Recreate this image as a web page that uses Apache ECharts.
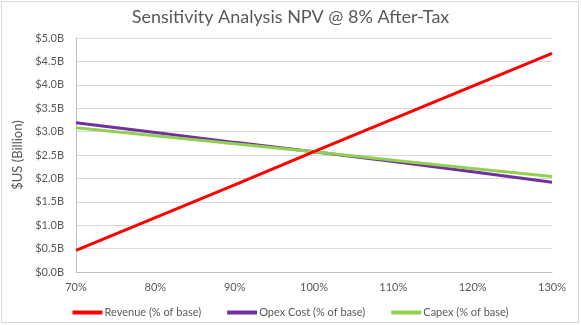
<!DOCTYPE html>
<html>
<head>
<meta charset="utf-8">
<script src="https://cdn.jsdelivr.net/npm/echarts@6/dist/echarts.min.js"></script>
<style>
html,body{margin:0;padding:0;background:#fff;}
#chart{width:581px;height:325px;}
</style>
</head>
<body>
<div id="chart"></div>
<script>
var xValues = [70, 80, 90, 100, 110, 120, 130];
var revenue = [0.46, 1.16, 1.86, 2.57, 3.27, 3.97, 4.67];
var opex = [3.19, 2.98, 2.77, 2.57, 2.36, 2.14, 1.92];
var capex = [3.08, 2.91, 2.74, 2.57, 2.39, 2.21, 2.04];
var seriesNames = ['Revenue (% of base)', 'Opex Cost (% of base)', 'Capex (% of base)'];
var seriesColors = ['#FF0000', '#7030A0', '#92D050'];

function pairs(arr){ return arr.map(function(v,i){ return [xValues[i], v]; }); }

var chart = echarts.init(document.getElementById('chart'), null, {renderer:'canvas'});
var font = 'Lato, "Open Sans", "Liberation Sans", sans-serif';
chart.setOption({
  animation: false,
  backgroundColor: '#fff',
  textStyle: {fontFamily: font},
  title: {
    text: 'Sensitivity Analysis NPV @ 8% After-Tax',
    left: 'center', top: 3,
    textStyle: {fontFamily: font, fontSize: 18, fontWeight: 'normal', color: '#595959'}
  },
  graphic: [{
    type: 'rect', shape: {x: 1.5, y: 1.5, width: 577, height: 321},
    style: {fill: 'none', stroke: '#d9d9d9', lineWidth: 1}, silent: true, z: -1
  }],
  legend: {
    bottom: 2, left: 'center', itemGap: 26,
    itemWidth: 30, itemHeight: 4, icon: 'rect',
    textStyle: {fontFamily: font, fontSize: 11, color: '#595959', padding: [0, 0, 0, -3]},
    data: seriesNames
  },
  grid: {left: 76, right: 29, top: 38, bottom: 53, containLabel: false},
  xAxis: {
    type: 'value', min: 70, max: 130, interval: 10,
    axisLine: {show: true, lineStyle: {color: '#bfbfbf'}},
    axisTick: {show: false},
    splitLine: {show: false},
    axisLabel: {formatter: '{value}%', color: '#595959', fontSize: 11, margin: 10, fontFamily: font}
  },
  yAxis: {
    type: 'value', min: 0, max: 5, interval: 0.5,
    name: '$US (Billion)', nameLocation: 'middle', nameGap: 46, nameRotate: 90,
    nameTextStyle: {color: '#595959', fontSize: 13, fontFamily: font},
    axisLine: {show: true, lineStyle: {color: '#bfbfbf'}},
    axisTick: {show: false},
    splitLine: {show: true, lineStyle: {color: '#d9d9d9'}},
    axisLabel: {formatter: function(v){ return '$' + v.toFixed(1) + 'B'; }, color: '#595959', fontSize: 11, margin: 12, fontFamily: font}
  },
  series: [
    {name: seriesNames[0], type: 'line', data: pairs(revenue), symbol: 'none', lineStyle: {width: 3, color: seriesColors[0]}, itemStyle: {color: seriesColors[0]}, z: 3},
    {name: seriesNames[1], type: 'line', data: pairs(opex), symbol: 'none', lineStyle: {width: 3, color: seriesColors[1]}, itemStyle: {color: seriesColors[1]}, z: 2},
    {name: seriesNames[2], type: 'line', data: pairs(capex), symbol: 'none', lineStyle: {width: 3, color: seriesColors[2]}, itemStyle: {color: seriesColors[2]}, z: 2}
  ]
});
</script>
</body>
</html>
